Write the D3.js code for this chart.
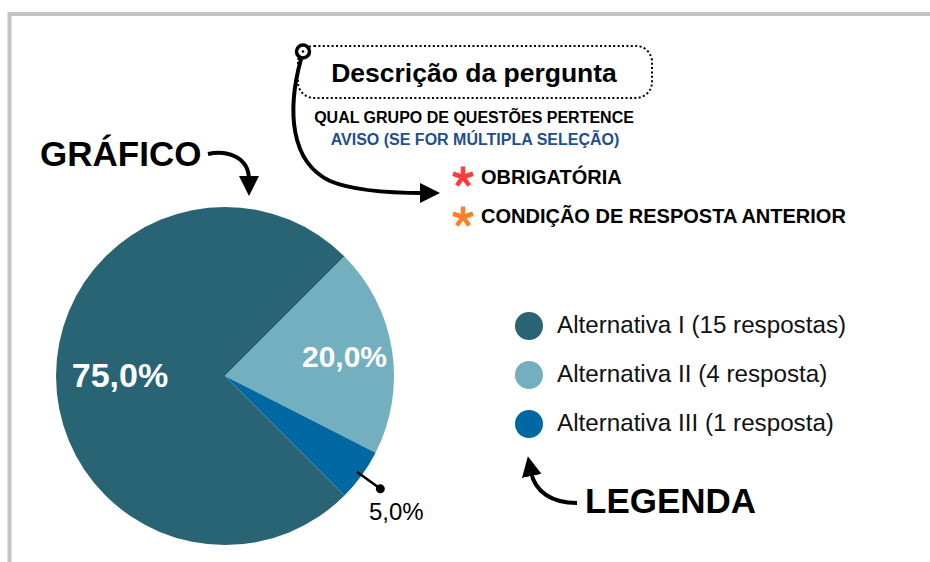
<!DOCTYPE html>
<html>
<head>
<meta charset="utf-8">
<script src="https://cdn.jsdelivr.net/npm/d3@7"></script>
<style>
  body { margin: 0; background: #fff; }
  svg { display: block; font-family: "Liberation Sans", Arial, sans-serif; }
</style>
</head>
<body>
<svg id="chart" width="930" height="562"></svg>
<script>
const categories = ["Alternativa I", "Alternativa II", "Alternativa III"];
const responses = [15, 4, 1];
const legendLabels = ["Alternativa I (15 respostas)", "Alternativa II (4 resposta)", "Alternativa III (1 resposta)"];
const sliceColors = ["#296475", "#74afc0", "#0068a0"];

const svg = d3.select("#chart");

// moldura cinza
svg.append("rect")
  .attr("x", 9.5).attr("y", 14)
  .attr("width", 1000).attr("height", 1000)
  .attr("fill", "none")
  .attr("stroke", "#c4c4c4")
  .attr("stroke-width", 4);

svg.append("defs").append("marker")
  .attr("id", "head")
  .attr("viewBox", "0 0 10 10")
  .attr("refX", 2).attr("refY", 5)
  .attr("markerWidth", 5).attr("markerHeight", 5)
  .attr("markerUnits", "strokeWidth")
  .attr("orient", "auto")
  .append("path").attr("d", "M0,0 L10,5 L0,10 z").attr("fill", "#000");

// pizza
const total = d3.sum(responses);
const locale = d3.formatLocale({ decimal: ",", thousands: ".", grouping: [3], currency: ["R$", ""] });
const pct = locale.format(".1%");

const R = 169;
const pie = d3.pie().sort(null).value(d => d)
  .startAngle(Math.PI * 3 / 4).endAngle(Math.PI * 3 / 4 + Math.PI * 2);
const arcs = pie(responses);
const arc = d3.arc().innerRadius(0).outerRadius(R);

const pieG = svg.append("g").attr("transform", "translate(225,376)");
pieG.selectAll("path")
  .data(arcs)
  .join("path")
  .attr("d", arc)
  .attr("fill", (d, i) => sliceColors[i]);

// rótulos internos
const inner = arcs.filter(d => d.value / total >= 0.1);
pieG.selectAll("text.in")
  .data(inner)
  .join("text")
  .attr("class", "in")
  .each(function (d) {
    const r = d.index === 0 ? 105 : 121;
    const [x, y] = d3.arc().innerRadius(r).outerRadius(r).centroid(d);
    d3.select(this).attr("x", x).attr("y", y + (d.index === 0 ? 11 : 10));
  })
  .attr("text-anchor", "middle")
  .attr("fill", "#fff")
  .attr("font-weight", "bold")
  .attr("font-size", d => d.index === 0 ? 34 : 30)
  .text(d => pct(d.value / total));

// rótulo externo com linha
arcs.filter(d => d.value / total < 0.1).forEach(d => {
  const [x1, y1] = d3.arc().innerRadius(163).outerRadius(163).centroid(d);
  const [x2, y2] = d3.arc().innerRadius(192).outerRadius(192).centroid(d);
  pieG.append("line")
    .attr("x1", x1).attr("y1", y1).attr("x2", x2).attr("y2", y2)
    .attr("stroke", "#000").attr("stroke-width", 2.5);
  pieG.append("circle").attr("cx", x2).attr("cy", y2).attr("r", 4.5).attr("fill", "#000");
  pieG.append("text")
    .attr("x", x2 + 16).attr("y", y2 + 31)
    .attr("text-anchor", "middle")
    .attr("font-size", 24)
    .attr("fill", "#000")
    .text(pct(d.value / total));
});

// legenda
const leg = svg.append("g").attr("transform", "translate(529,326)");
const rows = leg.selectAll("g")
  .data(categories)
  .join("g")
  .attr("transform", (d, i) => `translate(0,${i * 49})`);
rows.append("circle").attr("r", 14).attr("fill", (d, i) => sliceColors[i]);
rows.append("text")
  .attr("x", 28).attr("y", 7)
  .attr("font-size", 24.2)
  .attr("fill", "#111")
  .text((d, i) => legendLabels[i]);

// GRÁFICO
svg.append("text")
  .attr("x", 40).attr("y", 166)
  .attr("font-size", 35).attr("font-weight", "bold")
  .text("GRÁFICO");
svg.append("path")
  .attr("d", "M208,154 C226,150 249,156 249,180")
  .attr("fill", "none").attr("stroke", "#000").attr("stroke-width", 4)
  .attr("marker-end", "url(#head)");

// LEGENDA
svg.append("text")
  .attr("x", 585).attr("y", 513)
  .attr("font-size", 35).attr("font-weight", "bold")
  .text("LEGENDA");
svg.append("path")
  .attr("d", "M577,503 C552,503 535,492 531,472")
  .attr("fill", "none").attr("stroke", "#000").attr("stroke-width", 4)
  .attr("marker-end", "url(#head)");

// caixa de descrição
svg.append("rect")
  .attr("x", 298).attr("y", 46)
  .attr("width", 354).attr("height", 52)
  .attr("rx", 16)
  .attr("fill", "none").attr("stroke", "#000")
  .attr("stroke-width", 2).attr("stroke-dasharray", "2,2.4");
svg.append("text")
  .attr("x", 474).attr("y", 82)
  .attr("text-anchor", "middle")
  .attr("font-size", 26.5).attr("font-weight", "bold")
  .text("Descrição da pergunta");
svg.append("text")
  .attr("x", 474).attr("y", 122.5)
  .attr("text-anchor", "middle")
  .attr("font-size", 16).attr("font-weight", "bold")
  .text("QUAL GRUPO DE QUESTÕES PERTENCE");
svg.append("text")
  .attr("x", 475).attr("y", 145)
  .attr("text-anchor", "middle")
  .attr("font-size", 16).attr("font-weight", "bold")
  .attr("fill", "#1f4e8c")
  .text("AVISO (SE FOR MÚLTIPLA SELEÇÃO)");

// seta da descrição
svg.append("path")
  .attr("d", "M301,59 C287,110 290,162 330,181 C356,192 395,193 424,193")
  .attr("fill", "none").attr("stroke", "#000").attr("stroke-width", 4)
  .attr("marker-end", "url(#head)");
svg.append("circle").attr("cx", 303).attr("cy", 51.5).attr("r", 6.5)
  .attr("fill", "#fff").attr("stroke", "#000").attr("stroke-width", 3.5);
svg.append("circle").attr("cx", 303).attr("cy", 51.5).attr("r", 1.3).attr("fill", "#000");

// asteriscos
function asterisk(cx, cy, color) {
  const g = svg.append("g").attr("transform", `translate(${cx},${cy})`);
  d3.range(5).forEach(k => {
    g.append("line")
      .attr("x1", 0).attr("y1", 0).attr("x2", 0).attr("y2", -10.5)
      .attr("stroke", color).attr("stroke-width", 4.5)
      .attr("transform", `rotate(${k * 72})`);
  });
}
asterisk(463, 177, "#ff3b3b");
asterisk(463, 217, "#ff7f27");
svg.append("text")
  .attr("x", 481).attr("y", 183.5)
  .attr("font-size", 20).attr("font-weight", "bold")
  .text("OBRIGATÓRIA");
svg.append("text")
  .attr("x", 481).attr("y", 223)
  .attr("font-size", 20).attr("font-weight", "bold")
  .text("CONDIÇÃO DE RESPOSTA ANTERIOR");
</script>
</body>
</html>
